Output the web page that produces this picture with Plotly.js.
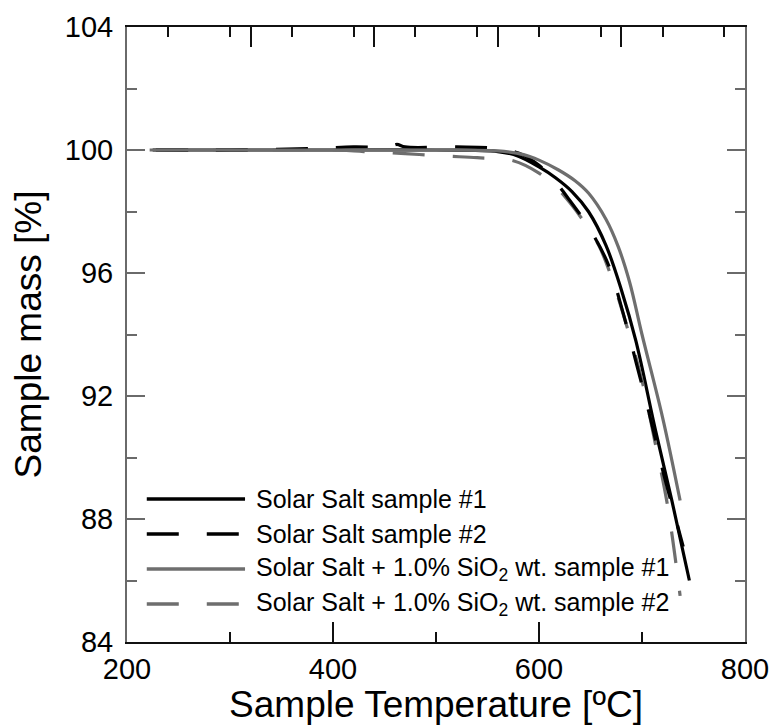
<!DOCTYPE html>
<html>
<head>
<meta charset="utf-8">
<script src="https://cdn.plot.ly/plotly-3.0.1.min.js"></script>
<style>html,body{margin:0;padding:0;background:#fff;}#chart{width:771px;height:725px;}</style>
</head>
<body>
<div id="chart"></div>
<script>
// ---- data ----
const seriesNames = [
  "Solar Salt sample #1",
  "Solar Salt sample #2",
  "Solar Salt + 1.0% SiO<sub>2</sub> wt. sample #1",
  "Solar Salt + 1.0% SiO<sub>2</sub> wt. sample #2"
];
const tempSS1 = [225, 300, 400, 500, 560, 580, 600, 616, 632, 648, 665, 680, 694, 713, 729, 746];
const massSS1 = [100, 100, 100, 100, 99.95, 99.8, 99.45, 99.1, 98.65, 98.0, 96.9, 95.45, 93.8, 90.9, 88.6, 86.0];

const tempSS2 = [228, 300, 380, 420, 455, 462, 470, 520, 560, 580, 600, 615, 629, 648, 667, 680, 695, 708, 720, 732, 740];
const massSS2 = [100, 100, 100.05, 100.1, 100.1, 100.18, 100.1, 100.1, 100.05, 99.9, 99.5, 99.0, 98.4, 97.5, 96.3, 94.9, 93.0, 91.3, 89.6, 88.1, 87.1];

const tempSi1 = [222, 300, 400, 500, 560, 585, 600, 619, 635, 648, 665, 677, 688, 700, 720, 737];
const massSi1 = [100, 100, 100, 100, 99.97, 99.85, 99.67, 99.35, 99.0, 98.6, 97.75, 96.85, 95.7, 94.0, 91.3, 88.6];

const tempSi2 = [225, 300, 400, 430, 470, 510, 540, 575, 600, 615, 632, 645, 658, 670, 685, 700, 712, 725, 737];
const massSi2 = [100, 100, 100, 99.95, 99.88, 99.8, 99.75, 99.65, 99.25, 98.85, 98.2, 97.6, 96.9, 95.9, 94.3, 92.5, 90.6, 88.4, 85.5];

const xTitle = "Sample Temperature [ºC]";
const yTitle = "Sample mass [%]";

// ---- styles ----
const FONT = "Liberation Sans, Arial, sans-serif";
const BLACK = "#000000";
const GRAY = "#6e6e6e";
const styles = [
  {color: BLACK, dash: "solid"},
  {color: BLACK, dash: "32px,28px"},
  {color: GRAY, dash: "solid"},
  {color: GRAY, dash: "32px,28px"}
];
const xs = [tempSS1, tempSS2, tempSi1, tempSi2];
const ys = [massSS1, massSS2, massSi1, massSi2];
const drawOrder = [0, 3, 1, 2];

const traces = drawOrder.map(i => ({
  type: "scatter", mode: "lines",
  x: xs[i], y: ys[i], name: seriesNames[i],
  line: {color: styles[i].color, dash: styles[i].dash, width: 3.2, shape: "spline", smoothing: 1},
  showlegend: false, hoverinfo: "skip"
}));
// invisible helper so the top axis is drawn
traces.push({type: "scatter", mode: "lines", x: tempSS1, y: massSS1, xaxis: "x2", yaxis: "y",
  line: {width: 0}, opacity: 0, showlegend: false, hoverinfo: "skip"});

// ---- custom legend (long line samples as in the original) ----
const legX0 = 0.032, legX1 = 0.191, legTextX = 0.205;
const legY = [0.2325, 0.1756, 0.1187, 0.0618];
const shapes = [], annotations = [];
seriesNames.forEach((n, i) => {
  shapes.push({type: "line", xref: "paper", yref: "paper", x0: legX0, x1: legX1, y0: legY[i], y1: legY[i],
    line: {color: styles[i].color, width: 3.5, dash: styles[i].dash}});
  annotations.push({xref: "paper", yref: "paper", x: legTextX, y: legY[i], xanchor: "left", yanchor: "middle",
    text: n, showarrow: false, font: {family: FONT, size: 25, color: "#000"}});
});

const XC = "#111111", YC = "#6a6a6a";
const axisCommon = {
  showgrid: false, zeroline: false, showline: true, linewidth: 2,
  ticks: "inside", tickwidth: 2,
  tickfont: {family: FONT, size: 29, color: "#000"}
};

const layout = {
  width: 771, height: 725,
  margin: {l: 127, r: 26, t: 27, b: 83},
  paper_bgcolor: "#fff", plot_bgcolor: "#fff",
  font: {family: FONT, color: "#000"},
  xaxis: Object.assign({}, axisCommon, {
    range: [200, 800], tick0: 200, dtick: 200, ticklen: 20, linecolor: XC, tickcolor: XC,
    minor: {dtick: 100, ticklen: 10, tickcolor: XC, tickwidth: 2, ticks: "inside"},
    title: {text: xTitle, font: {family: FONT, size: 37, color: "#000"}, standoff: 0}
  }),
  xaxis2: Object.assign({}, axisCommon, {
    overlaying: "x", side: "top", range: [200, 800], tick0: 200, dtick: 120, ticklen: 20,
    linecolor: XC, tickcolor: XC, showticklabels: false,
    minor: {dtick: 60, ticklen: 10, tickcolor: XC, tickwidth: 2, ticks: "inside"}
  }),
  yaxis: Object.assign({}, axisCommon, {
    range: [84, 104], tick0: 84, dtick: 4, ticklen: 18, mirror: "ticks", linecolor: YC, tickcolor: YC,
    ticklabelstandoff: 6,
    minor: {dtick: 2, ticklen: 10, tickcolor: YC, tickwidth: 2, ticks: "inside"},
    title: {text: yTitle, font: {family: FONT, size: 37, color: "#000"}, standoff: 12}
  }),
  shapes: shapes,
  annotations: annotations
};

Plotly.newPlot("chart", traces, layout, {staticPlot: true, displayModeBar: false});
</script>
</body>
</html>
